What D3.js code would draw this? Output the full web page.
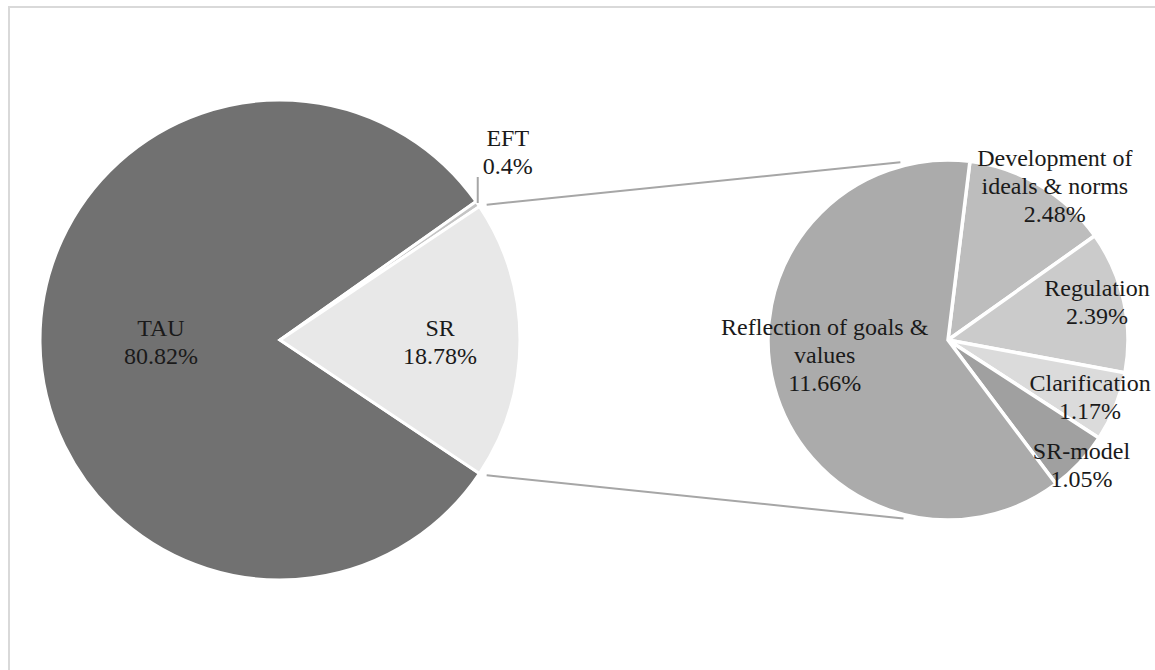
<!DOCTYPE html>
<html>
<head>
<meta charset="utf-8">
<script src="https://cdn.jsdelivr.net/npm/d3@7"></script>
<style>
  html, body { margin: 0; padding: 0; background: #fff; }
  svg { display: block; }
</style>
</head>
<body>
<svg id="chart" width="1155" height="670"></svg>
<script>
// ---------------- DATA ----------------
const mainCategories = ["TAU", "EFT", "SR"];
const mainValues = [80.82, 0.4, 18.78];
const mainColors = ["#717171", "#c4c4c4", "#e8e8e8"];

const subCategories = ["Development of\nideals & norms", "Regulation", "Clarification", "SR-model", "Reflection of goals &\nvalues"];
const subValues = [2.48, 2.39, 1.17, 1.05, 11.66];
const subColors = ["#bdbdbd", "#cbcbcb", "#dbdbdb", "#a0a0a0", "#ababab"];

// ---------------- LAYOUT ----------------
const W = 1155, H = 670;
const c1 = { x: 280, y: 340, r: 240 };
const c2 = { x: 948, y: 340, r: 180 };
const deg = Math.PI / 180;
// label placement: [radius factor, angle offset in degrees]
const mainLabelPlace = { "TAU": [0.496, -0.3], "SR": [0.667, 0.7] };
const subLabelPlace = [[1.04, 4], [0.855, -2], [0.85, 0], [1.015, 0], [0.69, 8]];
const fontSize = 24, lineH = 28;

const svg = d3.select("#chart");
svg.append("rect").attr("width", W).attr("height", H).attr("fill", "#fff");
svg.append("rect").attr("x", 9).attr("y", 7).attr("width", W + 20).attr("height", H + 20)
  .attr("fill", "none").attr("stroke", "#d9d9d9").attr("stroke-width", 2);

function pt(cx, cy, r, a) { return [cx + r * Math.sin(a), cy - r * Math.cos(a)]; }

// ---------- main pie ----------
const srIdx = mainCategories.indexOf("SR");
const mainTotal = d3.sum(mainValues);
const srSpan = mainValues[srIdx] / mainTotal * 2 * Math.PI;
const srEnd = Math.PI / 2 + srSpan / 2;
const pie1 = d3.pie().sort(null).value(d => d)
  .startAngle(srEnd - 2 * Math.PI).endAngle(srEnd);
const arcs1 = pie1(mainValues);
const arc1 = d3.arc().innerRadius(0).outerRadius(c1.r);

const g1 = svg.append("g").attr("transform", `translate(${c1.x},${c1.y})`);
g1.selectAll("path").data(arcs1).join("path")
  .attr("d", arc1)
  .attr("fill", (d, i) => mainColors[i])
  .attr("stroke", "#fff").attr("stroke-width", 3).attr("stroke-linejoin", "miter");

// ---------- sub pie ----------
const pie2 = d3.pie().sort(null).value(d => d)
  .startAngle(7 * deg).endAngle(7 * deg + 2 * Math.PI);
const arcs2 = pie2(subValues);
const arc2 = d3.arc().innerRadius(0).outerRadius(c2.r);
const g2 = svg.append("g").attr("transform", `translate(${c2.x},${c2.y})`);
g2.selectAll("path").data(arcs2).join("path")
  .attr("d", arc2)
  .attr("fill", (d, i) => subColors[i])
  .attr("stroke", "#fff").attr("stroke-width", 3.5).attr("stroke-linejoin", "miter");

// ---------- connectors ----------
const srArc = arcs1[srIdx];
const p1a = pt(c1.x, c1.y, c1.r + 7, srArc.startAngle + 0.6 * deg);
const p1b = pt(c1.x, c1.y, c1.r + 7, srArc.endAngle - 0.6 * deg);
const p2a = pt(c2.x, c2.y, c2.r + 4, -15 * deg);
const p2b = pt(c2.x, c2.y, c2.r + 4, 194 * deg);
svg.append("g").selectAll("line").data([[p1a, p2a], [p1b, p2b]]).join("line")
  .attr("x1", d => d[0][0]).attr("y1", d => d[0][1])
  .attr("x2", d => d[1][0]).attr("y2", d => d[1][1])
  .attr("stroke", "#a6a6a6").attr("stroke-width", 2);

// ---------- labels ----------
function pct(v) { return v + "%"; }
function drawLabel(x, y, lines) {
  const n = lines.length;
  const t = svg.append("text")
    .attr("x", x).attr("y", y)
    .attr("text-anchor", "middle")
    .attr("font-family", "'Liberation Serif', 'Times New Roman', serif")
    .attr("font-size", fontSize).attr("fill", "#1a1a1a");
  lines.forEach((ln, i) => {
    t.append("tspan").attr("x", x)
      .attr("dy", i === 0 ? (-(n - 1) / 2 * lineH + fontSize * 0.33) : lineH)
      .text(ln);
  });
}

arcs1.forEach((d, i) => {
  const name = mainCategories[i];
  const mid = (d.startAngle + d.endAngle) / 2;
  if (mainLabelPlace[name]) {
    const [f, off] = mainLabelPlace[name];
    const [x, y] = pt(c1.x, c1.y, c1.r * f, mid + off * deg);
    drawLabel(x, y, [name, pct(mainValues[i])]);
  } else {
    // leader line for tiny slice
    const [ex, ey] = pt(c1.x, c1.y, c1.r, mid);
    svg.append("line").attr("x1", ex).attr("y1", ey - 1).attr("x2", ex).attr("y2", ey - 27)
      .attr("stroke", "#a6a6a6").attr("stroke-width", 2);
    const t = svg.append("text")
      .attr("font-family", "'Liberation Serif', 'Times New Roman', serif")
      .attr("font-size", fontSize).attr("fill", "#1a1a1a").attr("text-anchor", "middle");
    t.append("tspan").attr("x", ex + 30).attr("y", ey - 30 - lineH).text(name);
    t.append("tspan").attr("x", ex + 30).attr("y", ey - 30).text(pct(mainValues[i]));
  }
});

arcs2.forEach((d, i) => {
  const mid = (d.startAngle + d.endAngle) / 2;
  const [f, off] = subLabelPlace[i];
  const [x, y] = pt(c2.x, c2.y, c2.r * f, mid + off * deg);
  drawLabel(x, y, subCategories[i].split("\n").concat([pct(subValues[i])]));
});
</script>
</body>
</html>
